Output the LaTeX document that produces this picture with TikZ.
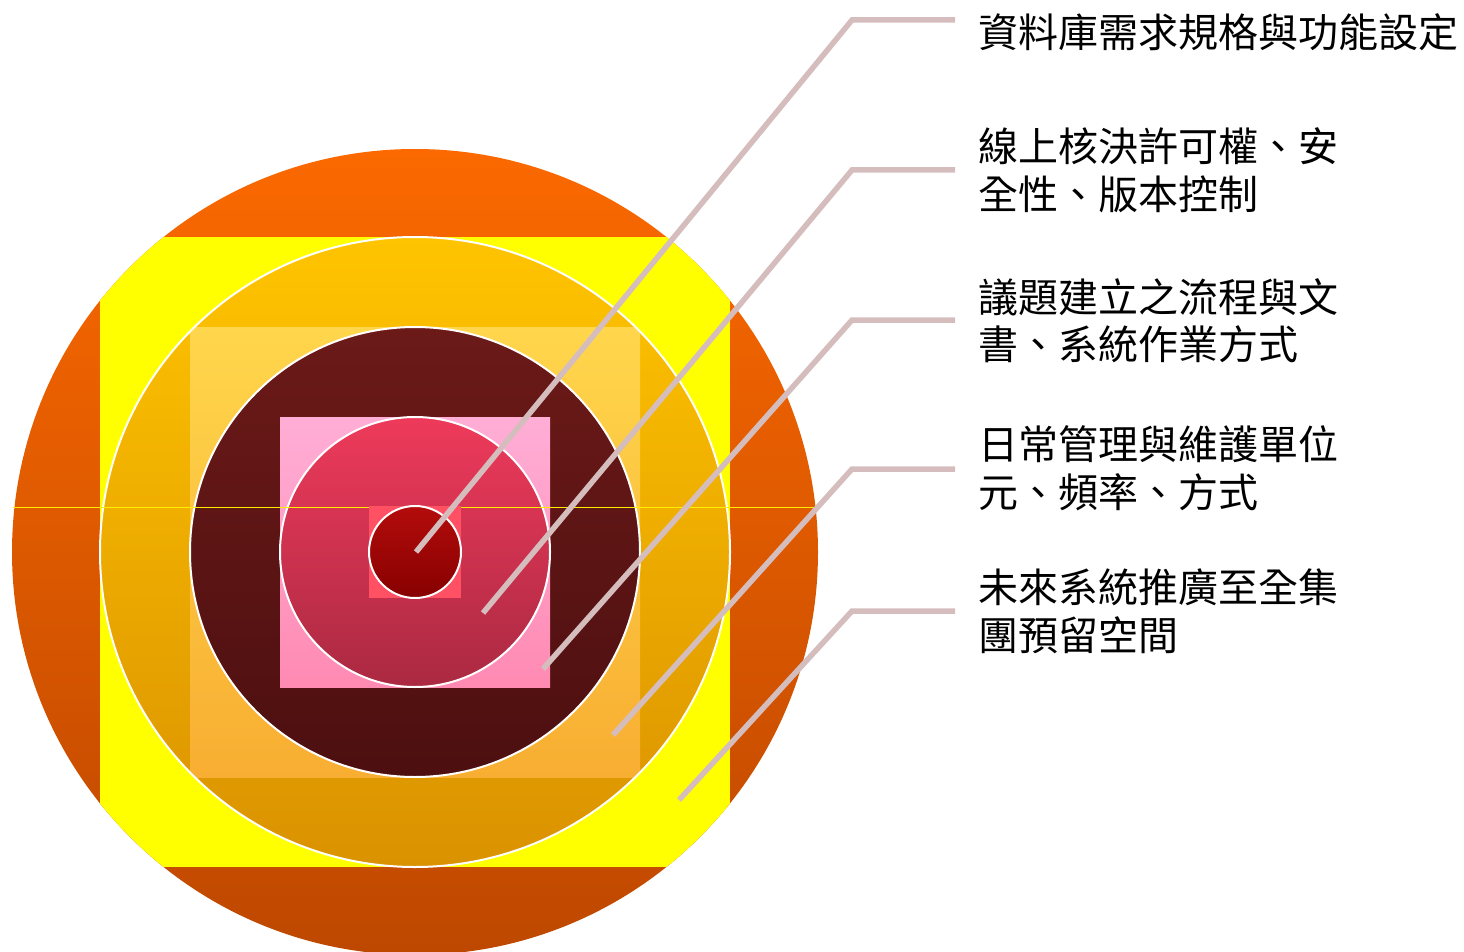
\documentclass[tikz,border=0pt]{standalone}
\usepackage{fontspec}
\newfontfamily\cjk{Noto Sans CJK TC}
\definecolor{oTop}{HTML}{FB6900}
\definecolor{oBot}{HTML}{BE4800}
\definecolor{sqA}{HTML}{FFFF00}
\definecolor{cBTop}{HTML}{FFC400}
\definecolor{cBBot}{HTML}{DA9200}
\definecolor{sqBTop}{HTML}{FFD64C}
\definecolor{sqBBot}{HTML}{F8AE32}
\definecolor{cCTop}{HTML}{6B1A18}
\definecolor{cCBot}{HTML}{4D0F10}
\definecolor{sqCTop}{HTML}{FFAED6}
\definecolor{sqCBot}{HTML}{FF8AB2}
\definecolor{cDTop}{HTML}{EE3A5B}
\definecolor{cDBot}{HTML}{AB2942}
\definecolor{sqD}{HTML}{FF5064}
\definecolor{cETop}{HTML}{B40C0C}
\definecolor{cEBot}{HTML}{860000}
\definecolor{leadc}{HTML}{D5BDBE}
\definecolor{hline}{HTML}{FFEE00}
\begin{document}
\begin{tikzpicture}[x=1pt,y=-1pt,
  leader/.style={draw=leadc, line width=5.5pt},
  ring/.style={draw=white, line width=2pt},
  lbl/.style={anchor=base west, inner sep=0pt, align=left,
    font=\cjk\fontsize{40pt}{47.5pt}\selectfont, text=black}]
\useasboundingbox (0,0) rectangle (1464,952);
\coordinate (c) at (415,552);
% outer circle
\shade[top color=oTop, bottom color=oBot] (c) circle[radius=403pt];
% yellow square clipped by outer circle
\begin{scope}
  \clip (c) circle[radius=403pt];
  \fill[sqA] (100,237) rectangle (730,867);
\end{scope}
% circle 2
\shade[top color=cBTop, bottom color=cBBot] (c) circle[radius=315pt];
\begin{scope}
  \clip (c) circle[radius=315pt];
  \shade[top color=sqBTop, bottom color=sqBBot] (190,327) rectangle (640,777);
\end{scope}
\draw[ring] (c) circle[radius=315pt];
% circle 3
\shadedraw[ring, top color=cCTop, bottom color=cCBot] (c) circle[radius=225pt];
\shade[top color=sqCTop, bottom color=sqCBot] (280,417) rectangle (550,687);
% circle 4
\shadedraw[ring, top color=cDTop, bottom color=cDBot] (c) circle[radius=135pt];
% thin horizontal line
\draw[hline, line width=1.2pt] (12.5,507.5) -- (818,507.5);
% square 4 and circle 5
\fill[sqD] (369,506) rectangle (461,598);
\shadedraw[ring, top color=cETop, bottom color=cEBot] (c) circle[radius=46pt];
% leader points
\coordinate (s1) at (416,552);
\coordinate (s2) at (483,613);
\coordinate (s3) at (543,669);
\coordinate (s4) at (613,735);
\coordinate (s5) at (679,800);
\coordinate (e1) at (852,20);
\coordinate (e2) at (852,170);
\coordinate (e3) at (852,320);
\coordinate (e4) at (852,469);
\coordinate (e5) at (852,611);
\coordinate (t1) at (955,20);
\coordinate (t2) at (955,170);
\coordinate (t3) at (955,320);
\coordinate (t4) at (955,469);
\coordinate (t5) at (955,611);
\draw[leader] (s1) -- (e1) -- (t1);
\draw[leader] (s2) -- (e2) -- (t2);
\draw[leader] (s3) -- (e3) -- (t3);
\draw[leader] (s4) -- (e4) -- (t4);
\draw[leader] (s5) -- (e5) -- (t5);
% labels (base anchor = baseline of last line)
\node[lbl] (l1) at (978,48) {資料庫需求規格與功能設定};
\node[lbl] (l2) at (978,209.5) {線上核決許可權、安\\全性、版本控制};
\node[lbl] (l3) at (978,359.5) {議題建立之流程與文\\書、系統作業方式};
\node[lbl] (l4) at (978,507) {日常管理與維護單位\\元、頻率、方式};
\node[lbl] (l5) at (978,650) {未來系統推廣至全集\\團預留空間};
\end{tikzpicture}
\end{document}
